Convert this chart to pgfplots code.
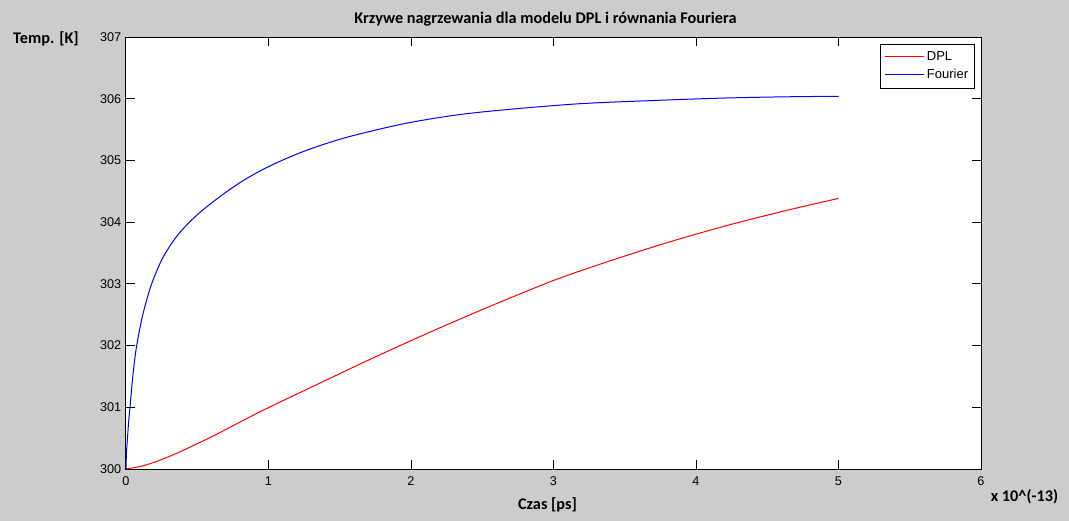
\documentclass[border=0pt]{standalone}
\usepackage{fontspec}
\setmainfont{Liberation Sans}
\newfontfamily\carlito{Carlito}
\usepackage{pgfplots}
\pgfplotsset{compat=1.18}
\definecolor{figgray}{HTML}{CCCCCC}
\definecolor{mred}{rgb}{1,0,0}
\definecolor{mblue}{rgb}{0,0,1}

\begin{document}
\begin{tikzpicture}
% figure background, in pixels of the 1069x521 original (axis box lower left at origin)
\begin{scope}[x=0.75pt,y=0.75pt]
  \fill[figgray] (-126,-52) rectangle (943,469);
\end{scope}
\begin{axis}[
    scale only axis, width=641.25pt, height=324pt,
    xmin=0, xmax=6, ymin=300, ymax=307,
    xtick={0,1,...,6}, ytick={300,301,...,307},
    tick align=inside, major tick length=6.75pt,
    axis background/.style={fill=white},
    axis line style={black, line width=0.75pt},
    every tick/.style={black, line width=0.75pt},
    /pgf/number format/assume math mode=true,
    /pgf/number format/1000 sep={},
    tick label style={font=\fontsize{9.5}{11}\selectfont},
    xticklabel style={yshift=-2pt},
    legend style={at={(0.993,0.984)}, anchor=north east,
        fill=white, font=\fontsize{9.75}{11}\selectfont, row sep=1pt,
        inner xsep=3pt, inner ysep=3.5pt},
    legend cell align=left,
    legend image code/.code={\draw[#1] (0pt,0pt) -- (29.25pt,0pt);},
]
\addlegendimage{draw=mred, line width=0.75pt}
\addlegendimage{draw=mblue, line width=0.75pt}
\addplot[draw=mred, line width=0.75pt, smooth, forget plot] coordinates {
(0,300.00) (0.1,300.04) (0.2,300.11) (0.3,300.20) (0.4,300.30) (0.5,300.41)
(0.6,300.52) (0.7,300.64) (0.8,300.76) (0.9,300.88) (1.0,300.995) (1.2,301.215)
(1.4,301.435) (1.6,301.655) (1.8,301.87) (2.0,302.08) (2.2,302.285) (2.4,302.485)
(2.6,302.68) (2.8,302.87) (3.0,303.055) (3.2,303.22) (3.4,303.375) (3.6,303.525)
(3.8,303.67) (4.0,303.805) (4.2,303.935) (4.4,304.055) (4.6,304.17) (4.8,304.28)
(5.0,304.385)
};
\addplot[draw=mblue, line width=0.75pt, smooth, forget plot] coordinates {
(0,300.00) (0.003,300.25) (0.009,300.45) (0.018,300.75) (0.028,301.00) (0.05,301.55)
(0.075,302.00) (0.12,302.52) (0.18,303.00) (0.26,303.43) (0.366,303.80) (0.5,304.12)
(0.657,304.41) (0.82,304.67) (1.0,304.90) (1.217,305.12) (1.4,305.27) (1.59,305.40)
(1.96,305.60) (2.33,305.74) (2.7,305.83) (3.19,305.92) (3.69,305.97) (4.18,306.01)
(4.6,306.03) (5.0,306.04)
};
\legend{DPL, Fourier}
\end{axis}
% title and labels, placed in pixels of the original
\begin{scope}[x=0.75pt,y=0.75pt, every node/.style={font=\carlito\bfseries\fontsize{12.2}{14}\selectfont, inner sep=0pt}]
  \node at (419.5,450) {Krzywe nagrzewania dla modelu DPL i równania Fouriera};
  \node at (-80,430) {Temp. [K]};
  \node at (421.5,-36) {Czas [ps]};
  \node at (898.5,-28) {x 10\textasciicircum(-13)};
\end{scope}
\end{tikzpicture}
\end{document}
